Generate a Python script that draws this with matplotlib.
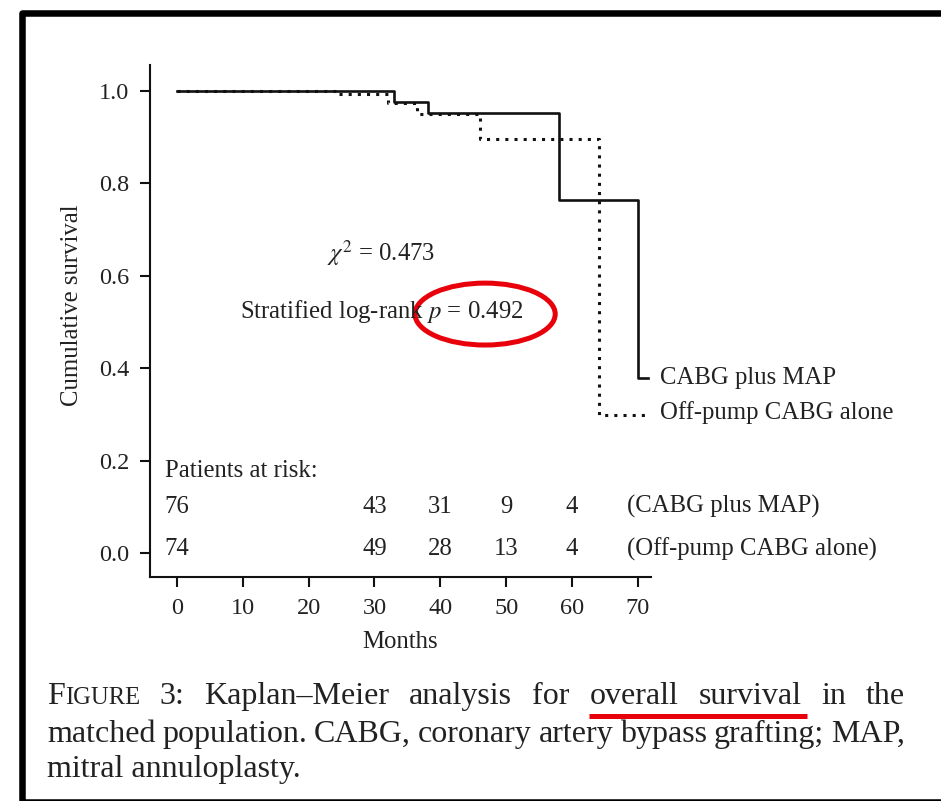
import numpy as np
import matplotlib.pyplot as plt
from matplotlib.patches import Ellipse, Rectangle
from matplotlib.lines import Line2D

plt.rcParams['font.family'] = ['Liberation Serif', 'DejaVu Serif']
plt.rcParams['mathtext.fontset'] = 'stix'

# Kaplan-Meier steps (months, cumulative survival)
cabg_t = [0, 33.0, 38.2, 58.0, 70.0, 71.6]
cabg_s = [1.0, 0.977, 0.953, 0.764, 0.379, 0.379]
off_t = [0, 24.3, 32.1, 36.4, 46.0, 64.1, 71.8]
off_s = [1.0, 0.993, 0.973, 0.950, 0.896, 0.299, 0.299]

risk_months = [0, 30, 40, 50, 60]
risk_cabg = ['76', '43', '31', '9', '4']
risk_off = ['74', '49', '28', '13', '4']

x_ticks = [0, 10, 20, 30, 40, 50, 60, 70]
y_ticks = [0.0, 0.2, 0.4, 0.6, 0.8, 1.0]

cap = 23
line1 = [[('F', cap), ('IGURE', cap * 0.77)], [('3:', cap)],
         [('Kaplan–Meier', cap)], [('analysis', cap)], [('for', cap)],
         [('overall', cap)], [('survival', cap)], [('in', cap)], [('the', cap)]]
line2 = 'matched population. CABG, coronary artery bypass grafting; MAP,'
line3 = 'mitral annuloplasty.'

W, H = 941, 801
txt = '#222222'
ink = '#111111'
fs = 17.8


def fx(px):
    return px / W


def fy(py):
    return 1 - py / H


fig = plt.figure(figsize=(W / 100, H / 100), dpi=100)
ax = fig.add_axes([fx(150), fy(577), fx(651) - fx(150), fy(65) - fy(577)])

ax.step(off_t, off_s, where='post', color=ink, lw=2.2, linestyle=(0, (1, 2.0)))
ax.step(cabg_t, cabg_s, where='post', color=ink, lw=1.9)

ax.set_xlim(-4.1, 72.0)
ax.set_ylim(-0.052, 1.056)
for s in ['top', 'right']:
    ax.spines[s].set_visible(False)
for s in ['left', 'bottom']:
    ax.spines[s].set_linewidth(1.5)
    ax.spines[s].set_color(ink)
ax.set_xticks(x_ticks)
ax.set_yticks(y_ticks)
ax.set_yticklabels([f'{v:.1f}' for v in y_ticks])
ax.tick_params(direction='out', length=7, width=1.5, color=ink,
               labelcolor=txt, labelsize=17.5)
ax.tick_params(axis='y', pad=8)
ax.tick_params(axis='x', pad=8)

fig.text(fx(72), fy(305), 'Cumulative survival', rotation=90, ha='center',
         va='center', fontsize=fs, color=txt)
fig.text(fx(400), fy(642), 'Months', ha='center', va='center',
         fontsize=fs, color=txt)

ax.text(31.0, 0.649, r'$\chi^2$ = 0.473', ha='center', va='center',
        fontsize=fs, color=txt)
ax.text(31.1, 0.522, r'Stratified log-rank $p$ = 0.492', ha='center',
        va='center', fontsize=fs, color=txt)
ax.add_patch(Ellipse((46.8, 0.517), 21.3, 0.134, fill=False,
                     ec='#e8000b', lw=3.6, clip_on=False))

ax.text(73.3, 0.379, 'CABG plus MAP', ha='left', va='center',
        fontsize=fs, color=txt, clip_on=False)
ax.text(73.3, 0.303, 'Off-pump CABG alone', ha='left', va='center',
        fontsize=fs, color=txt, clip_on=False)

ax.text(-1.8, 0.177, 'Patients at risk:', ha='left', va='center',
        fontsize=fs, color=txt)
for m, a, b in zip(risk_months, risk_cabg, risk_off):
    ax.text(m, 0.0996, a, ha='center', va='center', fontsize=fs, color=txt)
    ax.text(m, 0.0087, b, ha='center', va='center', fontsize=fs, color=txt)
ax.text(68.3, 0.0996, '(CABG plus MAP)', ha='left', va='center',
        fontsize=fs, color=txt, clip_on=False)
ax.text(68.3, 0.0087, '(Off-pump CABG alone)', ha='left', va='center',
        fontsize=fs, color=txt, clip_on=False)

# caption, justified like the journal page
renderer = fig.canvas.get_renderer()


def place_line(words, y_base, x0, x1):
    pieces = []
    for w in words:
        ts = [fig.text(0, fy(y_base), s, fontsize=size, color=txt,
                       va='baseline', ha='left') for s, size in w]
        pieces.append(ts)
    widths = [[t.get_window_extent(renderer).width for t in ts] for ts in pieces]
    total = sum(sum(w) for w in widths)
    gap = (x1 - x0 - total) / (len(words) - 1)
    x = x0
    spans = []
    for ts, ws in zip(pieces, widths):
        start = x
        for t, w in zip(ts, ws):
            t.set_x(fx(x))
            x += w
        spans.append((start, x))
        x += gap
    return spans


spans = place_line(line1, 704, 47, 905)
place_line([[(w, cap)] for w in line2.split()], 742, 47, 905)
fig.text(fx(47), fy(777), line3, fontsize=cap, color=txt, va='baseline')

fig.add_artist(Line2D([fx(spans[5][0] - 1), fx(spans[6][1] + 6)],
                      [fy(716), fy(716)], transform=fig.transFigure,
                      color='#e8000b', lw=3.6, solid_capstyle='butt'))

# black frame around the screenshot
fig.add_artist(Rectangle((fx(21.5), fy(802)), fx(990) - fx(21.5),
                         fy(13) - fy(802), transform=fig.transFigure,
                         fill=False, ec='black', lw=4.7, joinstyle='round'))

fig.savefig('out.png', dpi=100)
